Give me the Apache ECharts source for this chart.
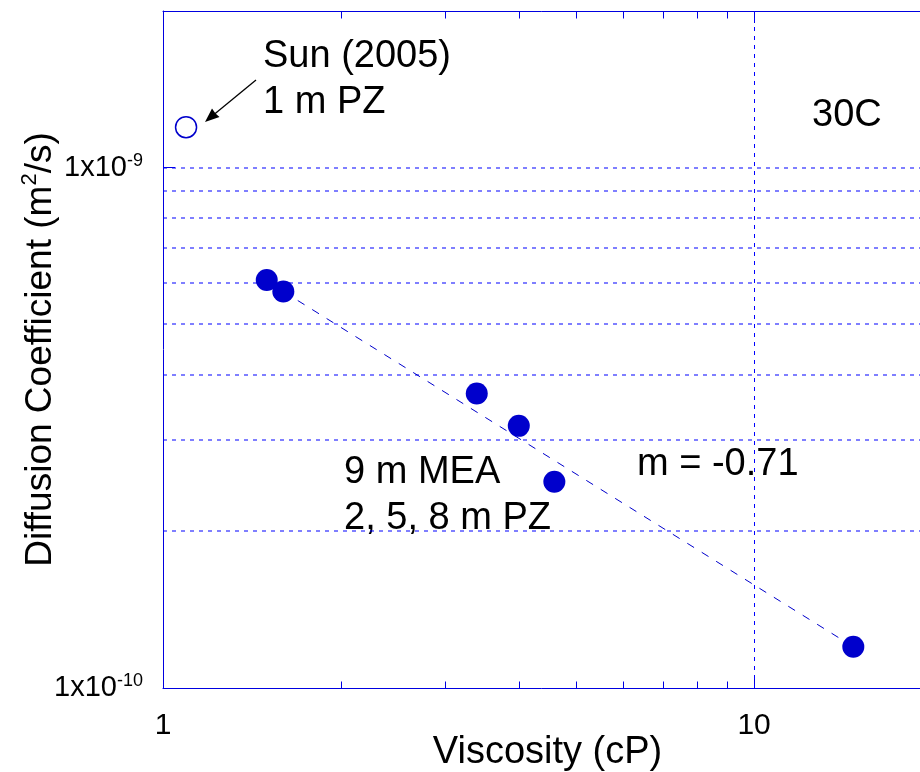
<!DOCTYPE html>
<html>
<head>
<meta charset="utf-8">
<script src="https://cdn.jsdelivr.net/npm/echarts@6/dist/echarts.min.js"></script>
<style>
  html, body { margin: 0; padding: 0; background: #fff; overflow: hidden; }
  #chart { width: 920px; height: 772px; }
</style>
</head>
<body>
<div id="chart"></div>
<script>
// ---- data ----
const viscosity   = [1.498, 1.598, 3.395, 3.999, 4.593, 14.72];          // cP
const diffusivity = [6.08e-10, 5.78e-10, 3.68e-10, 3.19e-10, 2.49e-10, 1.20e-10]; // m2/s
const sunViscosity   = [1.094];
const sunDiffusivity = [1.196e-9];
const fitViscosity   = [1.598, 14.72];
const fitDiffusivity = [5.78e-10, 1.20e-10];
const xRange = [1, 20];
const yRange = [1e-10, 2e-9];
const xMinorTicks = [2, 3, 4, 5, 6, 7, 8, 9];
const xGridLines = [10];
const yGridLines = [2e-10, 3e-10, 4e-10, 5e-10, 6e-10, 7e-10, 8e-10, 9e-10, 1e-9];
const xTickLabels = { 1: '1', 10: '10' };

const FONT = "'Liberation Sans', Arial, sans-serif";
const AXIS_BLUE = '#0000e0';
const GRID_BLUE = '#0000ff';
const MARK_BLUE = '#0000cc';

const chart = echarts.init(document.getElementById('chart'), null, { renderer: 'canvas' });

function isDecade(v) {
  const l = Math.log10(v);
  return Math.abs(l - Math.round(l)) < 1e-6;
}

const option = {
  backgroundColor: '#ffffff',
  animation: false,
  grid: { left: 163, top: 11, right: -12, bottom: 84, containLabel: false, outerBoundsMode: 'none' },
  xAxis: [
    {
      type: 'log', logBase: 10, min: xRange[0], max: xRange[1], position: 'bottom',
      name: 'Viscosity (cP)', nameLocation: 'middle', nameGap: 46, nameMoveOverlap: false,
      nameTextStyle: { fontFamily: FONT, fontSize: 38, color: '#000' },
      axisLine: { show: true, lineStyle: { color: AXIS_BLUE, width: 1 } },
      axisTick: { show: true, inside: true, length: 12, lineStyle: { color: AXIS_BLUE } },
      axisLabel: {
        margin: 23, fontFamily: FONT, fontSize: 30, color: '#000',
        formatter: v => {
          const r = Math.round(v);
          return (Math.abs(v - r) < 1e-6 && xTickLabels[r]) ? xTickLabels[r] : '';
        }
      },
      splitLine: { show: false }
    },
    {
      type: 'log', logBase: 10, min: xRange[0], max: xRange[1], position: 'top',
      axisLine: { show: true, lineStyle: { color: AXIS_BLUE, width: 1 } },
      axisTick: { show: true, inside: true, length: 12, lineStyle: { color: AXIS_BLUE } },
      axisLabel: { show: false },
      splitLine: { show: false }
    }
  ],
  yAxis: [
    {
      type: 'log', logBase: 10, min: yRange[0], max: yRange[1], position: 'left',
      name: 'Diffusion Coefficient (m{sup|2}/s)', nameLocation: 'middle', nameGap: 100, nameMoveOverlap: false,
      nameTextStyle: {
        fontFamily: FONT, fontSize: 37, color: '#000', lineHeight: 44,
        rich: { sup: { fontFamily: FONT, fontSize: 22, color: '#000', lineHeight: 18, verticalAlign: 'top' } }
      },
      axisLine: { show: true, lineStyle: { color: AXIS_BLUE, width: 1 } },
      axisTick: { show: true, inside: true, length: 12, lineStyle: { color: AXIS_BLUE } },
      axisLabel: {
        margin: 20, color: '#000', fontFamily: FONT, fontSize: 29,
        formatter: v => isDecade(v) ? '{b|1x10}{s|' + Math.round(Math.log10(v)) + '}' : '',
        rich: {
          b: { fontFamily: FONT, fontSize: 29, color: '#000', lineHeight: 32, verticalAlign: 'middle' },
          s: { fontFamily: FONT, fontSize: 18, color: '#000', lineHeight: 16, verticalAlign: 'top' }
        }
      },
      splitLine: { show: false }
    }
  ],
  graphic: [
    { type: 'text', x: 263, y: 57, style: { text: 'Sun (2005)', fontFamily: FONT, fontSize: 38, fill: '#000', align: 'left', verticalAlign: 'middle' } },
    { type: 'text', x: 263, y: 103, style: { text: '1 m PZ', fontFamily: FONT, fontSize: 38, fill: '#000', align: 'left', verticalAlign: 'middle' } },
    { type: 'text', x: 812, y: 116, style: { text: '30C', fontFamily: FONT, fontSize: 38, fill: '#000', align: 'left', verticalAlign: 'middle' } },
    { type: 'text', x: 344, y: 473, style: { text: '9 m MEA', fontFamily: FONT, fontSize: 38, fill: '#000', align: 'left', verticalAlign: 'middle' } },
    { type: 'text', x: 344, y: 519, style: { text: '2, 5, 8 m PZ', fontFamily: FONT, fontSize: 38, fill: '#000', align: 'left', verticalAlign: 'middle' } },
    { type: 'text', x: 637, y: 465, style: { text: 'm = -0.71', fontFamily: FONT, fontSize: 38, fill: '#000', align: 'left', verticalAlign: 'middle' } },
    { type: 'line', shape: { x1: 256, y1: 80, x2: 214, y2: 114.5 }, style: { stroke: '#000', lineWidth: 1.3 } },
    { type: 'polygon', shape: { points: [[205, 122], [219.5, 117], [215.5, 113.5], [212, 108.5]] }, style: { fill: '#000' } }
  ],
  series: [
    {
      // horizontal dotted grid lines (decade + minor)
      type: 'custom', xAxisIndex: 0, yAxisIndex: 0, silent: true, clip: false, z: 1,
      data: yGridLines.map(v => [xRange[0], v]),
      renderItem: function (params, api) {
        const v = api.value(1);
        const l = api.coord([xRange[0], v]);
        const r = api.coord([xRange[1], v]);
        const y = Math.round(l[1]);
        return { type: 'line', shape: { x1: l[0], y1: y, x2: r[0], y2: y },
                 style: { stroke: GRID_BLUE, lineWidth: 1.2, lineDash: [4, 5] } };
      }
    },
    {
      // vertical dotted grid line at the decade
      type: 'custom', xAxisIndex: 0, yAxisIndex: 0, silent: true, clip: false, z: 1,
      data: xGridLines.map(v => [v, yRange[0]]),
      renderItem: function (params, api) {
        const v = api.value(0);
        const b = api.coord([v, yRange[0]]);
        const t = api.coord([v, yRange[1]]);
        const x = Math.round(b[0]) + 0.5;
        return { type: 'line', shape: { x1: x, y1: b[1], x2: x, y2: t[1] },
                 style: { stroke: GRID_BLUE, lineWidth: 1, lineDash: [4, 5] } };
      }
    },
    {
      // minor ticks on bottom and top axes
      type: 'custom', xAxisIndex: 0, yAxisIndex: 0, silent: true, clip: false, z: 3,
      data: xMinorTicks.map(v => [v, yRange[0]]),
      renderItem: function (params, api) {
        const v = api.value(0);
        const b = api.coord([v, yRange[0]]);
        const t = api.coord([v, yRange[1]]);
        const x = Math.round(b[0]) + 0.5;
        return {
          type: 'group',
          children: [
            { type: 'line', shape: { x1: x, y1: Math.round(b[1]) + 0.5, x2: x, y2: Math.round(b[1]) - 6.5 }, style: { stroke: AXIS_BLUE, lineWidth: 1 } },
            { type: 'line', shape: { x1: x, y1: Math.round(t[1]) + 0.5, x2: x, y2: Math.round(t[1]) + 7.5 }, style: { stroke: AXIS_BLUE, lineWidth: 1 } }
          ]
        };
      }
    },
    {
      name: 'fit', type: 'line', symbol: 'none', z: 4,
      data: fitViscosity.map((x, i) => [x, fitDiffusivity[i]]),
      lineStyle: { color: MARK_BLUE, width: 1, type: [8, 9] }
    },
    {
      name: '9 m MEA; 2, 5, 8 m PZ', type: 'scatter', symbol: 'circle', symbolSize: 22, z: 5,
      data: viscosity.map((x, i) => [x, diffusivity[i]]),
      itemStyle: { color: MARK_BLUE, opacity: 1 }
    },
    {
      name: 'Sun (2005) 1 m PZ', type: 'scatter', symbol: 'circle', symbolSize: 21, z: 5,
      data: sunViscosity.map((x, i) => [x, sunDiffusivity[i]]),
      itemStyle: { color: '#ffffff', borderColor: MARK_BLUE, borderWidth: 1.5, opacity: 1 }
    }
  ]
};

chart.setOption(option);
</script>
</body>
</html>
